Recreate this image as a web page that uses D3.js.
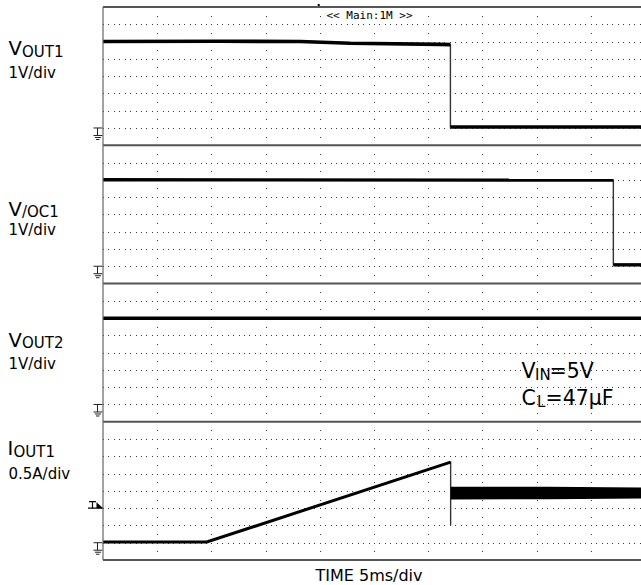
<!DOCTYPE html>
<html>
<head>
<meta charset="utf-8">
<script src="https://cdn.jsdelivr.net/npm/d3@7"></script>
<style>
  body { margin: 0; background: #fff; }
  svg { display: block; }
  text { font-family: "DejaVu Sans", sans-serif; fill: #000; }
</style>
</head>
<body>
<div class="chart"></div>
<script>
/* scope capture: 4 channels, 5ms/div */

var msPerDiv = 5
var unitsPerDiv = [1, 1, 1, 0.5]
var chanMain = ['V', 'V', 'V', 'I']
var chanSub = ['OUT1', '/OC1', 'OUT2', 'OUT1']
var chanScale = ['1V/div', '1V/div', '1V/div', '0.5A/div']

// CH1 VOUT1 (V)
var vout1Time = [0, 10.8, 18.2, 22.8, 31.1, 32.05, 32.05, 50]
var vout1Val = [5.0, 5.02, 5.0, 4.9, 4.84, 4.82, 0.06, 0.06]
// CH2 V/OC1 (V)
var voc1Time = [0, 47.08, 47.08, 50]
var voc1Val = [5.0, 4.98, 0.08, 0.08]
// CH3 VOUT2 (V)
var vout2Time = [0, 50]
var vout2Val = [4.99, 4.99]
// CH4 IOUT1 (A)
var iout1Time = [0, 9.57, 32.07, 32.07]
var iout1Val = [0.02, 0.02, 2.33, 0.51]
var iBandTime = [32.07, 41, 50]
var iBandHigh = [1.62, 1.62, 1.6]
var iBandLow = [1.25, 1.26, 1.28]

var triggerTime = 19.9
var triggerLevel = 1.0 // A on CH4

var traces = [
  { time: vout1Time, val: vout1Val, width: 3.6 },
  { time: voc1Time, val: voc1Val, width: 3.4 },
  { time: vout2Time, val: vout2Val, width: 3.4 },
  { time: iout1Time, val: iout1Val, width: 3 }
]

var labelPos = [
  { main: 54.5, sub: 56.5, subX: 22, scale: 77.5 },
  { main: 216, sub: 216.8, subX: 22, scale: 235 },
  { main: 346.5, sub: 348.3, subX: 22, scale: 369 },
  { main: 455, sub: 456.7, subX: 13.5, scale: 479 }
]

var W = 641, H = 585
var plotLeft = 103, plotTop = 7
var panelH = 138.25
var divW = 54.2

var svg = d3.select('.chart').append('svg')
    .attr('width', W)
    .attr('height', H)

svg.append('rect').attr('width', W).attr('height', H).attr('fill', '#fff')

var x = d3.scaleLinear()
    .domain([0, 10 * msPerDiv])
    .range([plotLeft, plotLeft + 10 * divW])

svg.append('clipPath').attr('id', 'plotclip')
  .append('rect')
    .attr('x', plotLeft).attr('y', plotTop)
    .attr('width', W - plotLeft).attr('height', 4 * panelH)

var dotTimes = d3.range(0, 10 * msPerDiv + 0.001, msPerDiv / 10)
var vTimes = d3.range(1, 10).map(function (d) { return d * msPerDiv })

unitsPerDiv.forEach(function (upd, p) {
  var y0 = plotTop + p * panelH
  var y = d3.scaleLinear()
      .domain([-1 * upd, 7 * upd])
      .range([y0 + panelH, y0])

  var g = svg.append('g').attr('class', 'panel panel-' + (p + 1))

  // dotted grid
  var grid = g.append('g').attr('fill', '#3a3a3a')
  d3.range(0, 7).forEach(function (k) {
    var gy = Math.round(y(k * upd))
    grid.selectAll(null)
      .data(dotTimes.filter(function (t) { return x(t) < W }))
      .enter().append('rect')
        .attr('x', function (t) { return Math.round(x(t)) })
        .attr('y', gy)
        .attr('width', 1).attr('height', 1)
  })
  vTimes.filter(function (t) { return x(t) < W }).forEach(function (t) {
    grid.selectAll(null)
      .data(d3.range(-0.5, 7, 1))
      .enter().append('rect')
        .attr('x', Math.round(x(t)))
        .attr('y', function (d) { return Math.round(y(d * upd)) })
        .attr('width', 1).attr('height', 1)
  })

  // ground marker
  var gy0 = y(0)
  g.append('path')
      .attr('d', 'M93.5,' + gy0 + 'H102.5M97.5,' + gy0 + 'V' + (gy0 + 7.5) +
        'M93.5,' + (gy0 + 7.5) + 'H102.5M95,' + (gy0 + 9.5) + 'H101M96,' + (gy0 + 11.5) + 'H99.5')
      .attr('fill', 'none')
      .attr('stroke', '#222')
      .attr('stroke-width', 1)

  // trace
  var tr = traces[p]
  var pts = tr.time.map(function (t, i) { return [x(t), y(tr.val[i])] })
  var tg = g.append('g').attr('clip-path', 'url(#plotclip)')
  tg.append('path')
      .attr('d', d3.line()(pts))
      .attr('fill', 'none')
      .attr('stroke', '#333')
      .attr('stroke-width', 1.4)

  var runs = [[pts[0]]]
  for (var i = 1; i < pts.length; i++) {
    if (tr.time[i] === tr.time[i - 1]) runs.push([pts[i]])
    else runs[runs.length - 1].push(pts[i])
  }
  runs.filter(function (r) { return r.length > 1 }).forEach(function (r) {
    tg.append('path')
        .attr('d', d3.line()(r))
        .attr('fill', 'none')
        .attr('stroke', '#000')
        .attr('stroke-width', tr.width)
  })

  if (p === 3) {
    // current limit oscillation band
    var band = d3.area()
        .x(function (d, i) { return x(iBandTime[i]) })
        .y0(function (d, i) { return y(iBandLow[i]) })
        .y1(function (d, i) { return y(iBandHigh[i]) })
    tg.append('path')
        .attr('d', band(iBandTime))
        .attr('fill', '#000')

    // trigger level marker
    var ty = y(triggerLevel)
    g.append('path')
        .attr('d', 'M89,' + (ty - 6.5) + 'H96M92.5,' + (ty - 6.5) + 'V' + ty + 'M88,' + ty + 'H103')
        .attr('fill', 'none')
        .attr('stroke', '#000')
        .attr('stroke-width', 1.2)
    g.append('path')
        .attr('d', 'M96.5,' + (ty - 6) + 'L103,' + ty + 'L96.5,' + ty + 'Z')
        .attr('fill', '#000')
  }

  // channel labels
  var lp = labelPos[p]
  var lab = svg.append('text').attr('y', lp.main)
  lab.append('tspan').attr('x', p === 3 ? 7.5 : 8.5).style('font-size', '19.5px').text(chanMain[p])
  lab.append('tspan').attr('x', lp.subX).attr('y', lp.sub).style('font-size', '15px').text(chanSub[p])
  svg.append('text')
      .attr('x', 8.5)
      .attr('y', lp.scale)
      .style('font-size', '15px')
      .text(chanScale[p])
})

// panel frames
svg.append('g').selectAll('line')
  .data(d3.range(0, 5))
  .enter().append('line')
    .attr('x1', plotLeft).attr('x2', W)
    .attr('y1', function (d) { return plotTop + d * panelH })
    .attr('y2', function (d) { return plotTop + d * panelH })
    .attr('stroke', '#555')
    .attr('stroke-width', 2)

svg.append('line')
    .attr('x1', plotLeft).attr('x2', plotLeft)
    .attr('y1', plotTop).attr('y2', plotTop + 4 * panelH)
    .attr('stroke', '#666')
    .attr('stroke-width', 1.2)

// trigger position marker
svg.append('rect')
    .attr('x', x(triggerTime) - 1).attr('y', 4)
    .attr('width', 2).attr('height', 2)
    .attr('fill', '#000')

// zoom window tag
svg.append('rect')
    .attr('x', 325).attr('y', 9)
    .attr('width', 90).attr('height', 12)
    .attr('fill', '#fff')
svg.append('text')
    .attr('x', 369.5).attr('y', 19)
    .attr('text-anchor', 'middle')
    .style('font-family', '"DejaVu Sans Mono", monospace')
    .style('font-size', '11px')
    .text('<< Main:1M >>')

// conditions
var c1 = svg.append('text').attr('y', 378.3)
c1.append('tspan').attr('x', 521.5).style('font-size', '20.5px').text('V')
c1.append('tspan').attr('x', 535).attr('y', 380).style('font-size', '15px').text('IN')
c1.append('tspan').attr('x', 549.5).attr('y', 378.3).style('font-size', '20.5px').text('=5V')
var c2 = svg.append('text').attr('y', 405)
c2.append('tspan').attr('x', 521.5).style('font-size', '20.5px').text('C')
c2.append('tspan').attr('x', 537).attr('y', 406.7).style('font-size', '15px').text('L')
c2.append('tspan').attr('x', 545.5).attr('y', 405).style('font-size', '20.5px').text('=47µF')

svg.append('text')
    .attr('x', 369).attr('y', 581)
    .attr('text-anchor', 'middle')
    .style('font-size', '16px')
    .text('TIME 5ms/div')
</script>
</body>
</html>
